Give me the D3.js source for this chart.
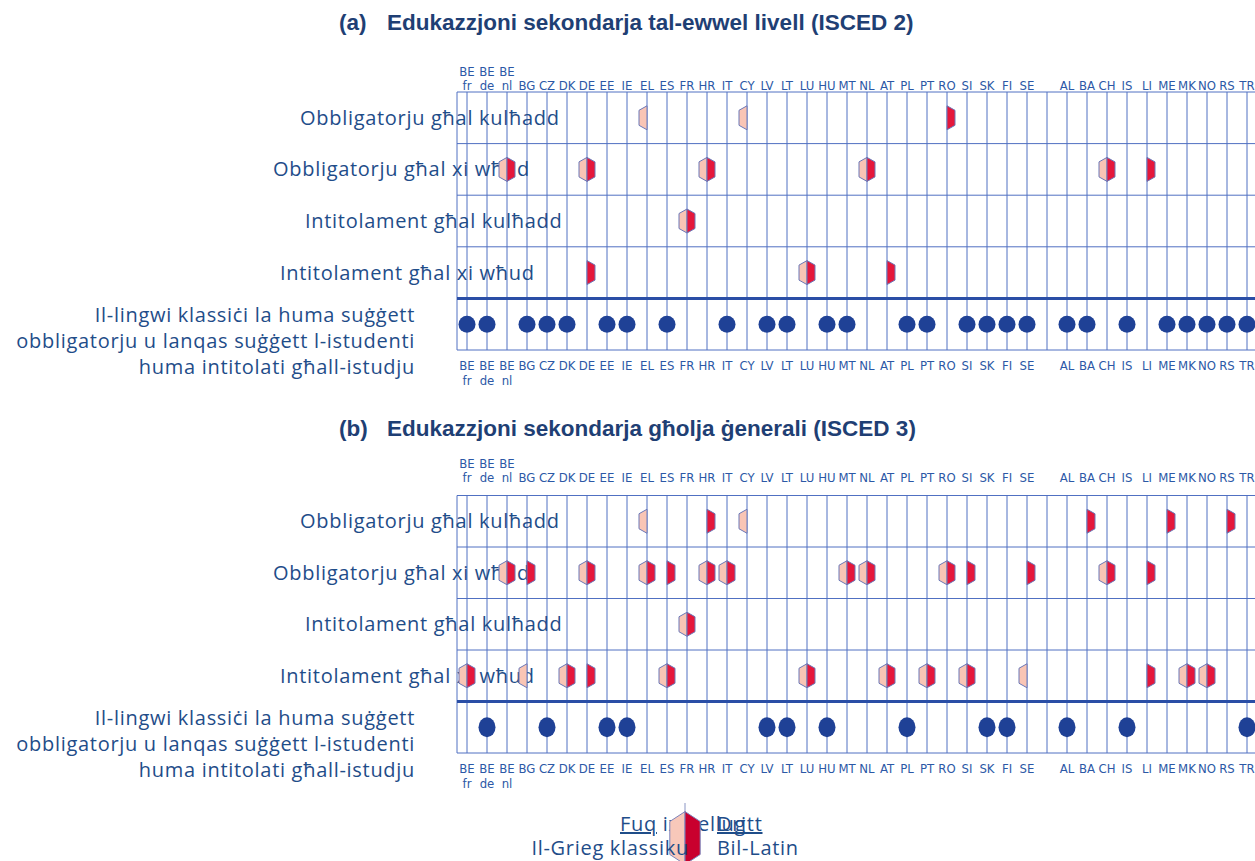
<!DOCTYPE html>
<html>
<head>
<meta charset="utf-8">
<title>Lingwi klassiċi</title>
<script src="https://d3js.org/d3.v7.min.js"></script>
<style>
  body { margin: 0; background: #fff; }
  svg text { fill: #1f4d89; }
</style>
</head>
<body>
<div id="chart"></div>
<script>
// columns ("_gap" is the empty column between SE and AL)
var countries = ["BE fr", "BE de", "BE nl", "BG", "CZ", "DK", "DE", "EE", "IE", "EL", "ES", "FR", "HR", "IT", "CY",
  "LV", "LT", "LU", "HU", "MT", "NL", "AT", "PL", "PT", "RO", "SI", "SK", "FI", "SE", "_gap",
  "AL", "BA", "CH", "IS", "LI", "ME", "MK", "NO", "RS", "TR"];

var rowLabels = ["Obbligatorju għal kulħadd", "Obbligatorju għal xi wħud",
  "Intitolament għal kulħadd", "Intitolament għal xi wħud"];
var noneLabel = ["Il-lingwi klassiċi la huma suġġett", "obbligatorju u lanqas suġġett l-istudenti",
  "huma intitolati għall-istudju"];

// (a) ISCED 2
var isced2Greek = [["EL", "CY"], ["BE nl", "DE", "HR", "NL", "CH"], ["FR"], ["LU"]];
var isced2Latin = [["RO"], ["BE nl", "DE", "HR", "NL", "CH", "LI"], ["FR"], ["DE", "LU", "AT"]];
var isced2None = ["BE fr", "BE de", "BG", "CZ", "DK", "EE", "IE", "ES", "IT", "LV", "LT", "HU", "MT",
  "PL", "PT", "SI", "SK", "FI", "SE", "AL", "BA", "IS", "ME", "MK", "NO", "RS", "TR"];

// (b) ISCED 3
var isced3Greek = [["EL", "CY"],
  ["BE nl", "DE", "EL", "HR", "IT", "MT", "NL", "RO", "CH"],
  ["FR"],
  ["BE fr", "BG", "DK", "ES", "LU", "AT", "PT", "SI", "SE", "MK", "NO"]];
var isced3Latin = [["HR", "BA", "ME", "RS"],
  ["BE nl", "BG", "DE", "EL", "ES", "HR", "IT", "MT", "NL", "RO", "SI", "SE", "CH", "LI"],
  ["FR"],
  ["BE fr", "DK", "DE", "ES", "LU", "AT", "PT", "SI", "LI", "MK", "NO"]];
var isced3None = ["BE de", "CZ", "EE", "IE", "LV", "LT", "HU", "PL", "SK", "FI", "AL", "IS", "TR"];

var titles = ["(a)", "Edukazzjoni sekondarja tal-ewwel livell (ISCED 2)",
  "(b)", "Edukazzjoni sekondarja għolja ġenerali (ISCED 3)"];

var colGreek = "#f9c5b5", colLatin = "#e5173b", colLine = "#5070c2", colDot = "#1f4196";

var svg = d3.select("#chart").append("svg")
  .attr("width", 1255).attr("height", 861);

var x = d3.scalePoint().domain(countries).range([467, 1247]);

var leftHalf = [[0, -12], [0, 12], [-8, 7.5], [-8, -7.5]];
var rightHalf = [[0, -12], [8, -7.5], [8, 7.5], [0, 12]];
function pts(p, dx, dy, sx, sy) {
  sx = sx || 1; sy = sy || sx;
  return p.map(function(q) { return (dx + q[0] * sx) + "," + (dy + q[1] * sy); }).join(" ");
}

var labelFont = "'DejaVu Sans Condensed', 'DejaVu Sans', sans-serif";
var rowFont = "'Open Sans', sans-serif";
var rowSize = "20px";
var rowSpacing = "0.7px";

function colText(g, d, y, s) {
  g.append("text").attr("x", x(d)).attr("y", y).attr("text-anchor", "middle")
    .style("font-family", labelFont).style("font-stretch", "condensed")
    .style("font-size", "13px").style("fill", "#2c58a6").text(s);
}

function rowText(sel) {
  return sel.style("font-family", rowFont).style("font-size", rowSize)
    .style("letter-spacing", rowSpacing);
}

function drawPanel(cfg) {
  var g = svg.append("g");
  var y = d3.scaleBand().domain([0, 1, 2, 3, 4]).range([cfg.top, cfg.bottom]);

  // title
  g.append("text").attr("x", 339).attr("y", cfg.titleY)
    .style("font", "bold 22.5px 'Liberation Sans', Arial, sans-serif").style("fill", "#1f3f74")
    .text(cfg.title[0]);
  g.append("text").attr("x", 387).attr("y", cfg.titleY)
    .style("font", "bold 22.5px 'Liberation Sans', Arial, sans-serif").style("fill", "#1f3f74")
    .text(cfg.title[1]);

  // grid
  g.selectAll("line.v").data(countries).enter().append("line")
    .attr("x1", function(d) { return x(d); }).attr("x2", function(d) { return x(d); })
    .attr("y1", cfg.top).attr("y2", cfg.bottom)
    .attr("stroke", colLine).attr("stroke-width", 1);
  g.append("line").attr("x1", 457).attr("x2", 457).attr("y1", cfg.top).attr("y2", cfg.bottom)
    .attr("stroke", colLine);
  [0, 1, 2, 3].forEach(function(i) {
    g.append("line").attr("x1", 457).attr("x2", 1255)
      .attr("y1", y(i)).attr("y2", y(i)).attr("stroke", colLine);
  });
  g.append("line").attr("x1", 457).attr("x2", 1255)
    .attr("y1", cfg.bottom).attr("y2", cfg.bottom).attr("stroke", colLine);
  g.append("line").attr("x1", 457).attr("x2", 1255)
    .attr("y1", y(4)).attr("y2", y(4)).attr("stroke", "#2a4ea6").attr("stroke-width", 3);

  // column labels, top and bottom
  countries.filter(function(d) { return d !== "_gap"; }).forEach(function(d) {
    var parts = d.split(" ");
    if (parts.length > 1) {
      colText(g, d, cfg.top - cfg.topOff - 14, parts[0]);
      colText(g, d, cfg.top - cfg.topOff, parts[1]);
      colText(g, d, cfg.bottom + 20, parts[0]);
      colText(g, d, cfg.bottom + 35, parts[1]);
    } else {
      colText(g, d, cfg.top - cfg.topOff, d);
      colText(g, d, cfg.bottom + 20, d);
    }
  });

  // row labels
  rowLabels.forEach(function(lab, i) {
    rowText(g.append("text").attr("x", cfg.labelX[i]).attr("y", y(i) + y.bandwidth() / 2 + 7))
      .text(lab);
  });
  noneLabel.forEach(function(lab, i) {
    rowText(g.append("text").attr("x", 415).attr("y", y(4) + y.bandwidth() / 2 - 2 + i * 26)
      .attr("text-anchor", "end")).text(lab);
  });

  // markers
  cfg.greek.forEach(function(list, i) {
    g.selectAll(null).data(list).enter().append("polygon")
      .attr("points", function(d) { return pts(leftHalf, x(d), y(i) + y.bandwidth() / 2); })
      .attr("fill", colGreek).attr("stroke", "#6b78b8").attr("stroke-width", 1);
  });
  cfg.latin.forEach(function(list, i) {
    g.selectAll(null).data(list).enter().append("polygon")
      .attr("points", function(d) { return pts(rightHalf, x(d), y(i) + y.bandwidth() / 2); })
      .attr("fill", colLatin).attr("stroke", "#6b78b8").attr("stroke-width", 1);
  });
  g.selectAll(null).data(cfg.none).enter().append("ellipse")
    .attr("cx", function(d) { return x(d); })
    .attr("cy", y(4) + y.bandwidth() / 2)
    .attr("rx", 8.5).attr("ry", cfg.dotRy)
    .attr("fill", colDot);
}

drawPanel({ title: titles.slice(0, 2), titleY: 30, top: 92, bottom: 350, topOff: 2,
  labelX: [300, 273, 305, 280], greek: isced2Greek, latin: isced2Latin, none: isced2None, dotRy: 8.5 });
drawPanel({ title: titles.slice(2, 4), titleY: 436, top: 495.5, bottom: 753, topOff: 13.5,
  labelX: [300, 273, 305, 280], greek: isced3Greek, latin: isced3Latin, none: isced3None, dotRy: 10 });

// legend
var lg = svg.append("g");
rowText(lg.append("text").attr("x", 620).attr("y", 831))
  .html('<tspan text-decoration="underline">Fuq</tspan> ix-xellug');
rowText(lg.append("text").attr("x", 717).attr("y", 831)).attr("text-decoration", "underline")
  .text("Dritt");
lg.append("line").attr("x1", 685).attr("x2", 685).attr("y1", 803).attr("y2", 813)
  .attr("stroke", "#8a95c4");
lg.append("polygon").attr("points", pts(leftHalf, 685, 838, 1.9, 2.2)).attr("fill", "#f8c8ba").attr("stroke", "#7c84bc");
lg.append("polygon").attr("points", pts(rightHalf, 685, 838, 1.9, 2.2)).attr("fill", "#c9002e").attr("stroke", "#7c84bc");
rowText(lg.append("text").attr("x", 689).attr("y", 855).attr("text-anchor", "end"))
  .text("Il-Grieg klassiku");
rowText(lg.append("text").attr("x", 717).attr("y", 855)).text("Bil-Latin");
</script>
</body>
</html>
